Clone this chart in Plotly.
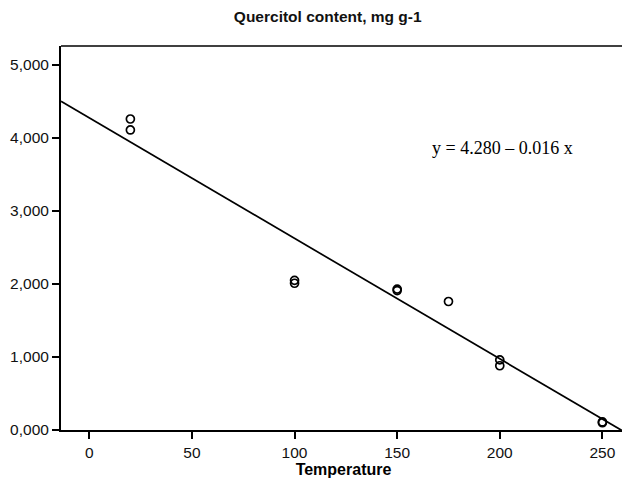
import plotly.graph_objects as go

temperature = [20, 20, 100, 100, 150, 150, 175, 200, 200, 250, 250]
quercitol = [4.26, 4.11, 2.05, 2.01, 1.93, 1.91, 1.76, 0.96, 0.88, 0.11, 0.10]

fit_intercept = 4.275
fit_slope = -0.0165

x_range = [-13.8, 261.5]
y_range = [0, 5.26]

x_ticks = [0, 50, 100, 150, 200, 250]
y_ticks = [0, 1, 2, 3, 4, 5]
y_tick_labels = ["0,000", "1,000", "2,000", "3,000", "4,000", "5,000"]

line_x = x_range
line_y = [fit_intercept + fit_slope * v for v in line_x]

fig = go.Figure()
fig.add_trace(go.Scatter(x=line_x, y=line_y, mode="lines",
                         line=dict(color="black", width=1.7), hoverinfo="skip"))
fig.add_trace(go.Scatter(x=temperature, y=quercitol, mode="markers",
                         marker=dict(symbol="circle-open", size=8, color="black",
                                     line=dict(width=1.7, color="black")),
                         cliponaxis=False))

# page body has an 8px margin, so the figure is sized to fill the rest
fig.update_layout(
    width=622, height=472,
    margin=dict(l=53, r=4, t=38, b=50, autoexpand=False),
    paper_bgcolor="white", plot_bgcolor="white",
    showlegend=False,
    title=dict(text="<b>Quercitol content, mg g-1</b>", x=0.514, xanchor="center",
               y=0.981, yanchor="middle",
               font=dict(family="Liberation Sans, Arial", size=15.5, color="#111")),
    font=dict(family="Liberation Sans, Arial", size=15, color="#111"),
)
fig.update_xaxes(range=x_range, tickvals=x_ticks, showgrid=False, zeroline=False,
                 showline=True, linecolor="black", linewidth=2,
                 ticks="outside", ticklen=7, tickwidth=2, tickcolor="black",
                 tickfont=dict(size=15.5, color="#111"),
                 title=dict(text="<b>Temperature</b>", standoff=2,
                            font=dict(size=16, color="black")))
fig.update_yaxes(range=y_range, tickvals=y_ticks, ticktext=y_tick_labels,
                 showgrid=False, zeroline=False,
                 showline=True, linecolor="black", linewidth=2,
                 ticks="outside", ticklen=7, tickwidth=2, tickcolor="black",
                 tickfont=dict(size=15.5, color="#111"))

# top frame line, faint right frame line, bottom axis running to the edge
fig.add_shape(type="line", xref="paper", yref="paper", x0=0, x1=1, y0=1, y1=1,
              line=dict(color="black", width=1.5))
fig.add_shape(type="line", xref="paper", yref="paper", x0=1, x1=1, y0=0, y1=1,
              line=dict(color="#bbbbbb", width=1))
fig.add_shape(type="line", xref="paper", yref="paper", x0=1, x1=1.008, y0=0, y1=0,
              line=dict(color="black", width=2))

fig.add_annotation(x=0.782, y=0.734, xref="paper", yref="paper",
                   text="y = 4.280 \u2013 0.016 x", showarrow=False,
                   xanchor="center", yanchor="middle",
                   font=dict(family="Liberation Serif, Times New Roman", size=18, color="black"))

fig.write_html("out.html")
